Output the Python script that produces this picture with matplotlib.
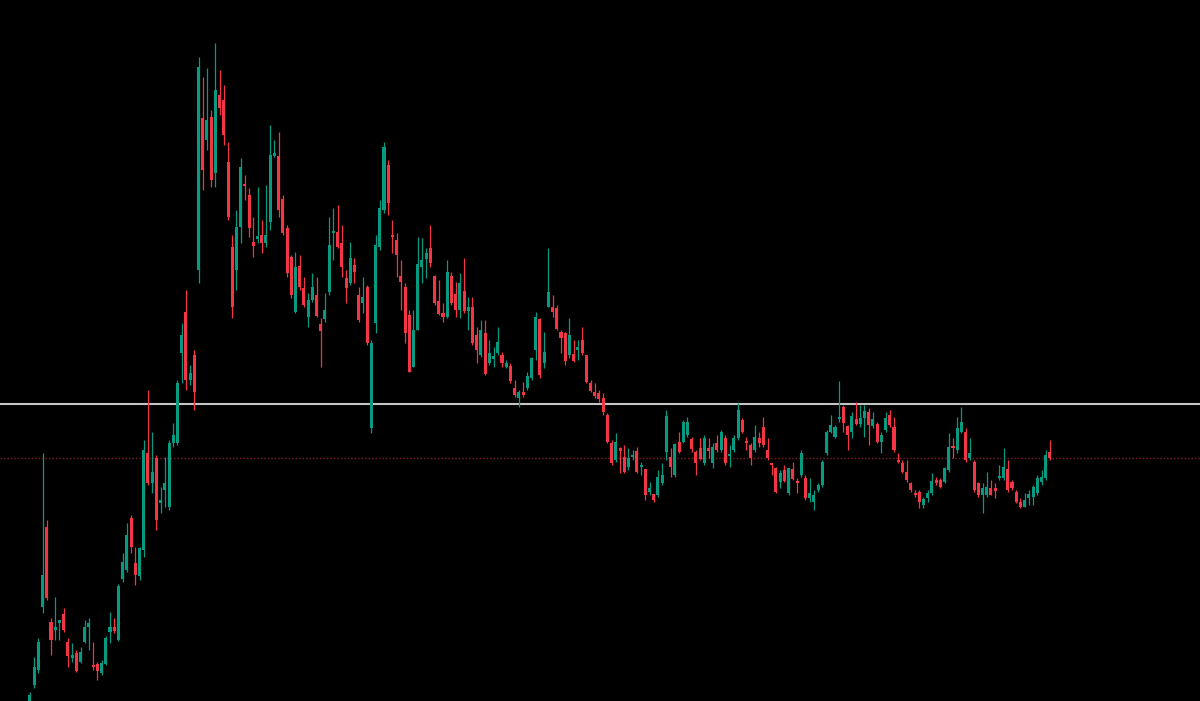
import numpy as np
import matplotlib
matplotlib.use("Agg")
import matplotlib.pyplot as plt

# datos OHLC (unidades de precio arbitrarias)
opens = [1.00, 1.16, 1.31, 1.94, 2.74, 1.79, 1.71, 1.78, 1.87, 1.59,
         1.43, 1.48, 1.39, 1.59, 1.74, 1.35, 1.37, 1.28, 1.37, 1.69,
         1.74, 1.61, 2.22, 2.31, 2.83, 2.38, 2.25, 2.51, 3.48, 3.18,
         3.43, 2.98, 3.11, 2.94, 3.58, 3.58, 4.48, 4.89, 4.21, 4.46,
         5.31, 6.83, 6.61, 6.84, 6.28, 7.06, 7.01, 6.39, 5.54, 5.31,
         5.74, 6.17, 6.06, 5.59, 5.62, 5.66, 5.58, 5.79, 6.45, 6.45,
         6.02, 5.73, 5.44, 4.89, 5.35, 5.13, 4.84, 5.01, 5.06, 4.77,
         4.82, 5.09, 5.68, 5.69, 5.58, 5.23, 5.18, 5.36, 5.06, 4.98,
         5.14, 3.73, 4.78, 5.54, 5.91, 6.36, 5.66, 5.61, 5.25, 5.14,
         4.86, 4.34, 4.71, 5.34, 5.42, 5.53, 5.25, 5.00, 4.88, 4.84,
         5.25, 5.07, 4.91, 5.10, 4.90, 4.94, 4.66, 4.46, 4.68, 4.38,
         4.42, 4.48, 4.46, 4.34, 4.35, 4.13, 4.03, 4.09, 4.13, 4.23,
         4.51, 4.82, 4.38, 4.94, 4.94, 4.93, 4.69, 4.68, 4.46, 4.47,
         4.51, 4.61, 4.46, 4.18, 4.09, 4.08, 4.03, 3.86, 3.58, 3.41,
         3.53, 3.44, 3.34, 3.44, 3.50, 3.34, 3.32, 3.09, 3.07, 3.06,
         3.18, 3.49, 3.44, 3.26, 3.59, 3.59, 3.66, 3.62, 3.49, 3.53,
         3.38, 3.53, 3.38, 3.58, 3.51, 3.63, 3.45, 3.51, 3.63, 3.81,
         3.59, 3.56, 3.51, 3.63, 3.74, 3.51, 3.38, 3.33, 3.19, 3.31,
         3.08, 3.32, 3.20, 3.26, 3.23, 3.03, 2.99, 3.11, 3.16, 3.48,
         3.69, 3.64, 3.82, 3.94, 3.75, 3.69, 3.82, 3.77, 3.83, 3.89,
         3.75, 3.77, 3.59, 3.71, 3.86, 3.74, 3.41, 3.38, 3.29, 3.18,
         3.08, 3.09, 2.96, 3.03, 3.08, 3.21, 3.21, 3.19, 3.31, 3.55,
         3.51, 3.69, 3.69, 3.43, 3.39, 3.18, 3.06, 3.06, 3.13, 3.13,
         3.23, 3.23, 3.32, 3.19, 3.09, 2.99, 2.94, 3.03, 3.04, 3.08,
         3.19, 3.23, 3.49]
highs = [1.09, 1.44, 1.63, 3.48, 2.81, 1.83, 2.04, 1.81, 1.93, 1.63,
         1.58, 1.51, 1.54, 1.81, 1.83, 1.59, 1.39, 1.41, 1.65, 1.89,
         1.83, 2.17, 2.48, 2.78, 2.86, 2.54, 2.54, 3.61, 4.11, 3.69,
         3.46, 3.14, 3.44, 3.61, 3.78, 4.21, 4.78, 5.11, 4.36, 4.51,
         7.44, 7.24, 7.33, 6.91, 7.58, 7.31, 7.16, 6.59, 5.66, 5.91,
         6.43, 6.26, 6.13, 5.84, 6.14, 5.81, 6.16, 6.76, 6.61, 6.69,
         6.06, 5.76, 5.46, 5.49, 5.46, 5.24, 5.08, 5.28, 5.24, 4.83,
         5.08, 5.84, 5.93, 5.96, 5.76, 5.31, 5.59, 5.43, 5.14, 5.24,
         5.16, 4.61, 5.66, 6.01, 6.59, 6.41, 5.81, 5.68, 5.41, 5.18,
         4.91, 4.91, 5.64, 5.63, 5.53, 5.76, 5.26, 5.21, 4.98, 5.41,
         5.29, 5.19, 5.28, 5.43, 5.04, 5.04, 4.74, 4.81, 4.81, 4.61,
         4.54, 4.74, 4.49, 4.41, 4.38, 4.21, 4.11, 4.19, 4.29, 4.44,
         4.89, 4.83, 4.69, 5.53, 5.06, 4.96, 4.71, 4.69, 4.83, 4.61,
         4.61, 4.74, 4.46, 4.21, 4.18, 4.11, 4.08, 3.88, 3.61, 3.68,
         3.54, 3.56, 3.53, 3.51, 3.54, 3.39, 3.32, 3.19, 3.07, 3.31,
         3.38, 3.91, 3.53, 3.58, 3.69, 3.81, 3.84, 3.64, 3.51, 3.63,
         3.66, 3.63, 3.58, 3.66, 3.71, 3.66, 3.56, 3.66, 3.98, 3.83,
         3.64, 3.58, 3.76, 3.69, 3.84, 3.63, 3.38, 3.34, 3.31, 3.36,
         3.33, 3.39, 3.23, 3.51, 3.26, 3.23, 3.11, 3.18, 3.41, 3.71,
         3.86, 3.76, 4.20, 3.96, 3.76, 3.89, 3.99, 3.96, 3.96, 3.93,
         3.89, 3.79, 3.69, 3.89, 3.91, 3.84, 3.48, 3.41, 3.41, 3.19,
         3.11, 3.11, 3.04, 3.11, 3.28, 3.24, 3.23, 3.34, 3.68, 3.63,
         3.84, 3.94, 3.73, 3.63, 3.41, 3.19, 3.18, 3.29, 3.21, 3.18,
         3.36, 3.53, 3.41, 3.21, 3.11, 3.03, 3.08, 3.11, 3.16, 3.26,
         3.31, 3.51, 3.61]
lows = [1.00, 1.13, 1.28, 1.88, 2.01, 1.46, 1.61, 1.61, 1.69, 1.34,
        1.39, 1.29, 1.38, 1.58, 1.51, 1.31, 1.21, 1.26, 1.36, 1.58,
        1.68, 1.60, 2.19, 2.29, 2.48, 2.16, 2.21, 2.44, 3.16, 3.08,
        2.71, 2.88, 2.94, 2.91, 3.54, 3.56, 4.18, 4.11, 4.16, 3.91,
        5.18, 6.11, 6.51, 6.14, 6.14, 6.86, 6.56, 5.81, 4.83, 5.11,
        5.58, 6.01, 5.64, 5.44, 5.58, 5.48, 5.54, 5.71, 6.44, 5.84,
        5.66, 5.24, 5.03, 4.88, 5.11, 4.94, 4.74, 4.99, 4.84, 4.34,
        4.79, 5.06, 5.41, 5.53, 5.24, 4.98, 5.16, 5.18, 4.79, 4.88,
        4.56, 3.68, 4.68, 5.51, 5.88, 5.86, 5.48, 5.24, 4.91, 4.58,
        4.29, 4.34, 4.71, 5.18, 5.23, 5.34, 4.96, 4.86, 4.79, 4.83,
        4.96, 4.84, 4.83, 4.88, 4.71, 4.56, 4.38, 4.44, 4.26, 4.36,
        4.34, 4.46, 4.34, 4.33, 4.18, 4.04, 3.94, 4.04, 4.11, 4.21,
        4.41, 4.23, 4.33, 4.94, 4.84, 4.71, 4.48, 4.36, 4.43, 4.39,
        4.41, 4.46, 4.18, 4.09, 4.03, 3.99, 3.86, 3.58, 3.36, 3.39,
        3.28, 3.28, 3.31, 3.41, 3.28, 3.26, 3.01, 3.06, 2.99, 3.04,
        3.16, 3.41, 3.24, 3.24, 3.48, 3.58, 3.64, 3.49, 3.26, 3.41,
        3.36, 3.43, 3.33, 3.49, 3.49, 3.36, 3.34, 3.49, 3.61, 3.68,
        3.51, 3.36, 3.49, 3.54, 3.54, 3.41, 3.26, 3.08, 3.13, 3.19,
        3.06, 3.21, 3.08, 3.24, 3.01, 2.99, 2.91, 3.09, 3.14, 3.46,
        3.68, 3.63, 3.79, 3.69, 3.51, 3.63, 3.76, 3.74, 3.64, 3.56,
        3.73, 3.58, 3.48, 3.69, 3.74, 3.49, 3.38, 3.28, 3.19, 3.09,
        3.04, 2.93, 2.93, 2.99, 3.06, 3.16, 3.13, 3.18, 3.29, 3.43,
        3.48, 3.68, 3.39, 3.41, 3.09, 3.04, 2.88, 3.04, 3.06, 3.03,
        3.21, 3.21, 3.09, 3.11, 2.98, 2.93, 2.94, 2.96, 2.96, 3.06,
        3.16, 3.21, 3.41]
closes = [1.06, 1.34, 1.59, 2.26, 2.03, 1.61, 1.74, 1.81, 1.71, 1.45,
          1.46, 1.30, 1.49, 1.74, 1.78, 1.34, 1.30, 1.38, 1.63, 1.74,
          1.70, 2.15, 2.39, 2.66, 2.54, 2.26, 2.53, 3.51, 3.18, 3.29,
          2.81, 3.01, 3.18, 3.58, 3.66, 4.18, 4.66, 4.21, 4.28, 4.09,
          7.34, 6.31, 6.81, 6.21, 7.11, 6.93, 6.66, 5.84, 4.94, 5.74,
          6.34, 6.15, 5.73, 5.55, 5.65, 5.58, 5.66, 6.46, 6.48, 5.91,
          5.68, 5.28, 5.06, 5.34, 5.14, 4.96, 5.01, 5.14, 4.85, 4.70,
          4.91, 5.56, 5.70, 5.54, 5.34, 5.13, 5.43, 5.29, 4.81, 5.04,
          4.58, 4.58, 5.56, 5.93, 6.54, 5.98, 5.64, 5.46, 5.19, 4.68,
          4.29, 4.71, 5.37, 5.41, 5.48, 5.38, 4.98, 4.87, 4.84, 5.29,
          4.98, 4.91, 5.18, 4.90, 4.94, 4.58, 4.51, 4.71, 4.27, 4.48,
          4.45, 4.59, 4.38, 4.38, 4.20, 4.06, 4.09, 4.06, 4.25, 4.43,
          4.84, 4.26, 4.49, 5.09, 4.89, 4.72, 4.63, 4.40, 4.66, 4.40,
          4.54, 4.48, 4.19, 4.10, 4.05, 4.02, 3.89, 3.59, 3.38, 3.59,
          3.50, 3.29, 3.43, 3.46, 3.29, 3.35, 3.06, 3.13, 3.01, 3.24,
          3.26, 3.85, 3.34, 3.57, 3.49, 3.79, 3.79, 3.52, 3.38, 3.42,
          3.63, 3.50, 3.54, 3.51, 3.69, 3.38, 3.47, 3.63, 3.91, 3.69,
          3.58, 3.43, 3.64, 3.58, 3.56, 3.43, 3.36, 3.09, 3.28, 3.20,
          3.33, 3.22, 3.18, 3.48, 3.03, 3.08, 3.06, 3.16, 3.39, 3.69,
          3.76, 3.74, 3.84, 3.78, 3.66, 3.85, 3.77, 3.83, 3.90, 3.76,
          3.82, 3.59, 3.66, 3.83, 3.76, 3.51, 3.39, 3.29, 3.21, 3.11,
          3.06, 2.99, 3.02, 3.08, 3.20, 3.18, 3.14, 3.33, 3.54, 3.53,
          3.73, 3.79, 3.41, 3.48, 3.11, 3.06, 3.13, 3.14, 3.06, 3.10,
          3.25, 3.34, 3.11, 3.13, 2.99, 2.94, 3.01, 3.07, 3.14, 3.23,
          3.24, 3.46, 3.43]

resistencia = 3.97      # linea blanca horizontal
precio_actual = 3.43    # linea roja punteada (ultimo cierre)

# colores estilo TradingView
VERDE = '#089981'
ROJO = '#f23645'

o = np.array(opens)
h = np.array(highs)
l = np.array(lows)
c = np.array(closes)
x = np.arange(len(o))
sube = c >= o
colores = np.where(sube, VERDE, ROJO)

fig = plt.figure(figsize=(12, 7.01), dpi=100)
fig.patch.set_facecolor('black')
ax = fig.add_axes([0, 0, 1, 1])
ax.set_facecolor('black')

# lineas horizontales
ax.axhline(resistencia, color='#c4c4c4', linewidth=1.5, zorder=1)
ax.axhline(precio_actual, color=ROJO, linewidth=1.0, linestyle=(0, (1, 1.5)), alpha=0.55, zorder=1)

# mechas y cuerpos
ax.vlines(x, l, h, colors=colores, linewidth=0.9, zorder=2)
cuerpo = np.maximum(np.abs(c - o), 0.02)
ax.bar(x, cuerpo, bottom=np.minimum(o, c), width=0.72, color=colores, linewidth=0, zorder=3)

ax.set_xlim(-7.1, 277.6)
ax.set_ylim(1.00, 8.01)
ax.axis('off')

fig.savefig('out.png', dpi=100, facecolor='black')
